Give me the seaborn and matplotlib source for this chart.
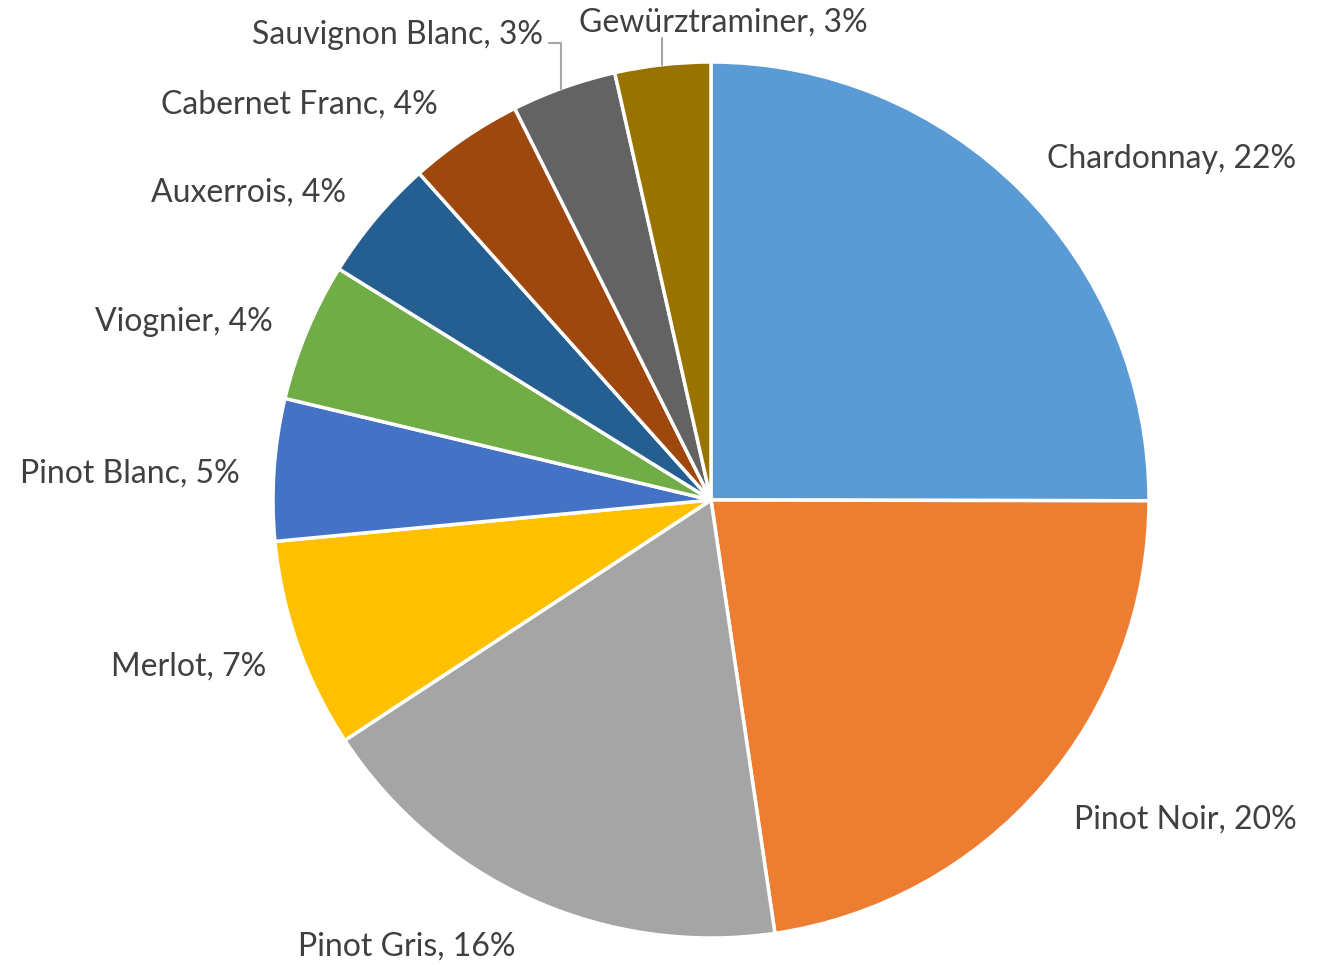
import matplotlib
matplotlib.use("Agg")
import matplotlib.pyplot as plt
import seaborn as sns

sns.set_theme(style="white")
plt.rcParams['font.family'] = ['Lato', 'DejaVu Sans']

varieties = ["Chardonnay", "Pinot Noir", "Pinot Gris", "Merlot", "Pinot Blanc",
             "Viognier", "Auxerrois", "Cabernet Franc", "Sauvignon Blanc", "Gewürztraminer"]
values = [22.0, 19.9, 15.9, 6.8, 4.6, 4.5, 4.0, 3.7, 3.4, 3.1]
pct_labels = ["22%", "20%", "16%", "7%", "5%", "4%", "4%", "4%", "3%", "3%"]
colors = ["#5B9BD5", "#ED7D31", "#A5A5A5", "#FFC000", "#4472C4",
          "#70AD47", "#255E91", "#9E480E", "#636363", "#997300"]

W, H, R_PX, CX, CY = 1328, 965, 438, 711, 500
fig = plt.figure(figsize=(W / 100, H / 100), dpi=100)
ax = fig.add_axes([0, 0, 1, 1])
ax.pie(values, colors=colors, startangle=90, counterclock=False, radius=1,
       wedgeprops=dict(edgecolor="white", linewidth=2.5))
ax.set_xlim(-CX / R_PX, (W - CX) / R_PX)
ax.set_ylim((CY - H) / R_PX, CY / R_PX)
ax.set_aspect("equal")
ax.axis("off")

def px(x, y):
    return (x - CX) / R_PX, (CY - y) / R_PX

# label anchor positions (pixel coordinates of reference) and alignment
label_pos = [
    ((1047, 159), "left"),
    ((1074, 820), "left"),
    ((407, 947), "center"),
    ((266, 667), "right"),
    ((240, 474), "right"),
    ((273, 322), "right"),
    ((346, 193), "right"),
    ((438, 105), "right"),
    ((543, 35), "right"),
    ((723, 23), "center"),
]
for name, pct, (p, ha) in zip(varieties, pct_labels, label_pos):
    x, y = px(*p)
    ax.text(x, y, f"{name}, {pct}", ha=ha, va="center", fontsize=23, color="#404040")

# leader lines
lc = "#A6A6A6"
pts = [px(549, 43), px(561, 43), px(561, 89)]
ax.plot([q[0] for q in pts], [q[1] for q in pts], color=lc, lw=1.5)
pts = [px(662, 38), px(662, 65)]
ax.plot([q[0] for q in pts], [q[1] for q in pts], color=lc, lw=1.5)

fig.savefig("out.png", dpi=100, facecolor="white")
